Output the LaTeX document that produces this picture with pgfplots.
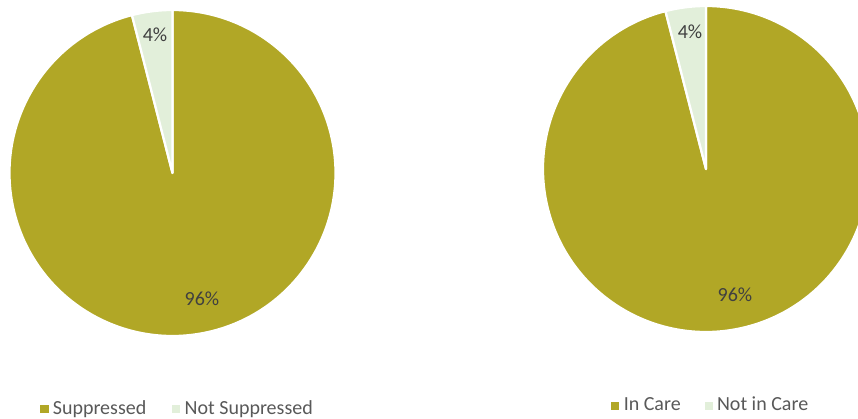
\documentclass[border=0pt]{standalone}
\usepackage{pgfplots}
\pgfplotsset{compat=1.18}
\usepackage{pgfplotstable}
\usepackage{fontspec}
\setmainfont{Carlito}
\definecolor{olivec}{HTML}{B1A726}
\definecolor{lightc}{HTML}{E2EFDA}
\definecolor{labc}{HTML}{404040}
\definecolor{legc}{HTML}{595959}

% Viral suppression
\pgfplotstableread{
value
96
4
}\supptab
% Retention in care
\pgfplotstableread{
value
96
4
}\caretab

\newcommand{\chartfont}{\fontsize{7.93}{9.5}\selectfont}

\pgfplotstablegetelem{0}{value}\of\supptab \edef\sA{\pgfplotsretval}%
\pgfplotstablegetelem{1}{value}\of\supptab \edef\sB{\pgfplotsretval}%
\pgfmathsetmacro\sAng{90+360*\sB/(\sA+\sB)}%
\pgfplotstablegetelem{0}{value}\of\caretab \edef\cA{\pgfplotsretval}%
\pgfplotstablegetelem{1}{value}\of\caretab \edef\cB{\pgfplotsretval}%
\pgfmathsetmacro\cAng{90+360*\cB/(\cA+\cB)}%
\def\R{64.63pt}

\begin{document}%
\begin{tikzpicture}
\begin{axis}[at={(0,0)}, anchor=south west, scale only axis,
  width=170.1pt, height=165.74pt, xmin=0, xmax=429, ymin=0, ymax=418,
  hide axis, clip=true,
  legend image code/.code={\fill[#1] (0pt,-1.4pt) rectangle (2.8pt,1.4pt);},
  legend columns=2,
  legend style={draw=none, fill=none, at={(0.0932,0.0215)}, anchor=west,
    inner sep=0pt, font=\chartfont, text=legc, nodes={inner sep=0pt},
    /tikz/every even column/.append style={column sep=10.3pt},
    /tikz/every odd column/.append style={column sep=1.7pt}}]
\addlegendimage{olivec}
\addlegendentry{Suppressed}
\addlegendimage{lightc}
\addlegendentry{Not Suppressed}
\fill[olivec, draw=white, line width=0.9pt, line join=round]
  (axis cs:172.5,245) -- ++(\sAng:\R) arc[start angle=\sAng, end angle=450, radius=\R] -- cycle;
\fill[lightc, draw=white, line width=0.9pt, line join=round]
  (axis cs:172.5,245) -- ++(90:\R) arc[start angle=90, end angle=\sAng, radius=\R] -- cycle;
\node[text=labc, font=\chartfont] at (axis cs:155,383) {4\%};
\node[text=labc, font=\chartfont] at (axis cs:202,119) {96\%};
\end{axis}
\begin{axis}[at={(170.1pt,0)}, anchor=south west, scale only axis,
  width=170.1pt, height=165.74pt, xmin=429, xmax=858, ymin=0, ymax=418,
  hide axis, clip=true,
  legend image code/.code={\fill[#1] (0pt,-1.4pt) rectangle (2.8pt,1.4pt);},
  legend columns=2,
  legend style={draw=none, fill=none, at={(0.424,0.0287)}, anchor=west,
    inner sep=0pt, font=\chartfont, text=legc, nodes={inner sep=0pt},
    /tikz/every even column/.append style={column sep=9.5pt},
    /tikz/every odd column/.append style={column sep=1.7pt}}]
\addlegendimage{olivec}
\addlegendentry{In Care}
\addlegendimage{lightc}
\addlegendentry{Not in Care}
\fill[olivec, draw=white, line width=0.9pt, line join=round]
  (axis cs:706,249) -- ++(\cAng:\R) arc[start angle=\cAng, end angle=450, radius=\R] -- cycle;
\fill[lightc, draw=white, line width=0.9pt, line join=round]
  (axis cs:706,249) -- ++(90:\R) arc[start angle=90, end angle=\cAng, radius=\R] -- cycle;
\node[text=labc, font=\chartfont] at (axis cs:690,386) {4\%};
\node[text=labc, font=\chartfont] at (axis cs:735,123) {96\%};
\end{axis}
\pgfresetboundingbox
\path[use as bounding box] (0,0) rectangle (340.2pt,165.74pt);
\end{tikzpicture}%
\end{document}
